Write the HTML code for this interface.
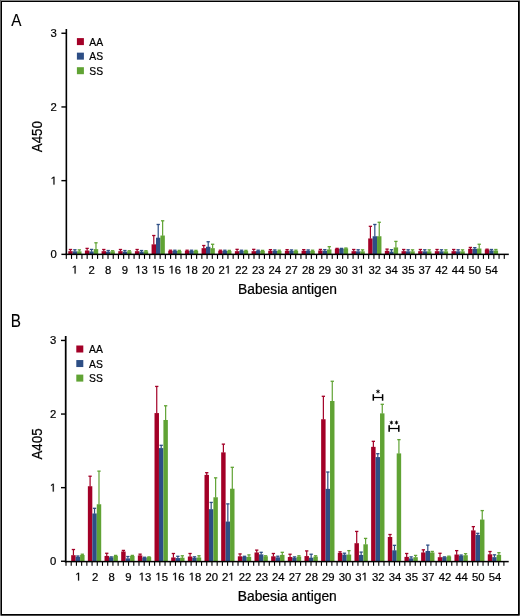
<!DOCTYPE html>
<html><head><meta charset="utf-8"><title>Babesia antigen</title>
<style>
html,body{margin:0;padding:0;background:#fff;}
body{width:520px;height:616px;overflow:hidden;position:relative;}
svg{position:absolute;left:0;top:0;will-change:transform;}
text{font-family:"Liberation Sans", sans-serif;fill:#000;stroke:#000;stroke-width:0.22px;}
</style></head><body>
<svg width="520" height="616" viewBox="0 0 520 616">
<rect x="0" y="0" width="520" height="616" fill="#fff"/>
<rect x="68.27" y="251.18" width="4.42" height="3.22" fill="#a30027"/>
<rect x="69.88" y="249.49" width="1.2" height="1.99" fill="#a30027"/>
<rect x="68.83" y="248.84" width="3.3" height="1.3" fill="#a30027"/>
<rect x="72.69" y="251.33" width="4.42" height="3.07" fill="#2d4e85"/>
<rect x="74.3" y="249.78" width="1.2" height="1.84" fill="#2d4e85"/>
<rect x="73.25" y="249.13" width="3.3" height="1.3" fill="#2d4e85"/>
<rect x="77.11" y="251.33" width="4.42" height="3.07" fill="#60a334"/>
<rect x="78.72" y="249.85" width="1.2" height="1.77" fill="#60a334"/>
<rect x="77.67" y="249.2" width="3.3" height="1.3" fill="#60a334"/>
<rect x="84.93" y="250.52" width="4.42" height="3.88" fill="#a30027"/>
<rect x="86.54" y="248.38" width="1.2" height="2.43" fill="#a30027"/>
<rect x="85.49" y="247.73" width="3.3" height="1.3" fill="#a30027"/>
<rect x="89.35" y="251.47" width="4.42" height="2.93" fill="#2d4e85"/>
<rect x="90.96" y="249.41" width="1.2" height="2.36" fill="#2d4e85"/>
<rect x="89.91" y="248.76" width="3.3" height="1.3" fill="#2d4e85"/>
<rect x="93.77" y="249.12" width="4.42" height="5.28" fill="#60a334"/>
<rect x="95.38" y="242.79" width="1.2" height="6.63" fill="#60a334"/>
<rect x="94.33" y="242.14" width="3.3" height="1.3" fill="#60a334"/>
<rect x="101.59" y="251.18" width="4.42" height="3.22" fill="#a30027"/>
<rect x="103.2" y="249.49" width="1.2" height="1.99" fill="#a30027"/>
<rect x="102.15" y="248.84" width="3.3" height="1.3" fill="#a30027"/>
<rect x="106.01" y="251.69" width="4.42" height="2.71" fill="#2d4e85"/>
<rect x="107.62" y="250.52" width="1.2" height="1.48" fill="#2d4e85"/>
<rect x="106.57" y="249.87" width="3.3" height="1.3" fill="#2d4e85"/>
<rect x="110.43" y="251.33" width="4.42" height="3.07" fill="#60a334"/>
<rect x="112.04" y="250.74" width="1.2" height="0.89" fill="#60a334"/>
<rect x="110.99" y="250.09" width="3.3" height="1.3" fill="#60a334"/>
<rect x="118.26" y="251.18" width="4.42" height="3.22" fill="#a30027"/>
<rect x="119.87" y="249.49" width="1.2" height="1.99" fill="#a30027"/>
<rect x="118.82" y="248.84" width="3.3" height="1.3" fill="#a30027"/>
<rect x="122.68" y="251.69" width="4.42" height="2.71" fill="#2d4e85"/>
<rect x="124.29" y="250.52" width="1.2" height="1.48" fill="#2d4e85"/>
<rect x="123.24" y="249.87" width="3.3" height="1.3" fill="#2d4e85"/>
<rect x="127.1" y="251.33" width="4.42" height="3.07" fill="#60a334"/>
<rect x="128.71" y="250.74" width="1.2" height="0.89" fill="#60a334"/>
<rect x="127.66" y="250.09" width="3.3" height="1.3" fill="#60a334"/>
<rect x="134.92" y="251.18" width="4.42" height="3.22" fill="#a30027"/>
<rect x="136.53" y="249.49" width="1.2" height="1.99" fill="#a30027"/>
<rect x="135.48" y="248.84" width="3.3" height="1.3" fill="#a30027"/>
<rect x="139.34" y="251.69" width="4.42" height="2.71" fill="#2d4e85"/>
<rect x="140.95" y="250.52" width="1.2" height="1.48" fill="#2d4e85"/>
<rect x="139.9" y="249.87" width="3.3" height="1.3" fill="#2d4e85"/>
<rect x="143.76" y="251.33" width="4.42" height="3.07" fill="#60a334"/>
<rect x="145.37" y="250.74" width="1.2" height="0.89" fill="#60a334"/>
<rect x="144.32" y="250.09" width="3.3" height="1.3" fill="#60a334"/>
<rect x="151.58" y="244.34" width="4.42" height="10.06" fill="#a30027"/>
<rect x="153.19" y="235.51" width="1.2" height="9.13" fill="#a30027"/>
<rect x="152.14" y="234.86" width="3.3" height="1.3" fill="#a30027"/>
<rect x="156" y="237.72" width="4.42" height="16.68" fill="#2d4e85"/>
<rect x="157.61" y="224.48" width="1.2" height="13.54" fill="#2d4e85"/>
<rect x="156.56" y="223.83" width="3.3" height="1.3" fill="#2d4e85"/>
<rect x="160.42" y="235.51" width="4.42" height="18.89" fill="#60a334"/>
<rect x="162.03" y="220.8" width="1.2" height="15.01" fill="#60a334"/>
<rect x="160.98" y="220.15" width="3.3" height="1.3" fill="#60a334"/>
<rect x="168.24" y="250.81" width="4.42" height="3.59" fill="#a30027"/>
<rect x="169.85" y="250.22" width="1.2" height="0.89" fill="#a30027"/>
<rect x="168.8" y="249.57" width="3.3" height="1.3" fill="#a30027"/>
<rect x="172.66" y="250.81" width="4.42" height="3.59" fill="#2d4e85"/>
<rect x="174.27" y="250.22" width="1.2" height="0.89" fill="#2d4e85"/>
<rect x="173.22" y="249.57" width="3.3" height="1.3" fill="#2d4e85"/>
<rect x="177.08" y="250.96" width="4.42" height="3.44" fill="#60a334"/>
<rect x="178.69" y="250.37" width="1.2" height="0.89" fill="#60a334"/>
<rect x="177.64" y="249.72" width="3.3" height="1.3" fill="#60a334"/>
<rect x="184.9" y="250.81" width="4.42" height="3.59" fill="#a30027"/>
<rect x="186.51" y="250.22" width="1.2" height="0.89" fill="#a30027"/>
<rect x="185.46" y="249.57" width="3.3" height="1.3" fill="#a30027"/>
<rect x="189.32" y="250.81" width="4.42" height="3.59" fill="#2d4e85"/>
<rect x="190.93" y="250.22" width="1.2" height="0.89" fill="#2d4e85"/>
<rect x="189.88" y="249.57" width="3.3" height="1.3" fill="#2d4e85"/>
<rect x="193.74" y="250.96" width="4.42" height="3.44" fill="#60a334"/>
<rect x="195.35" y="250.37" width="1.2" height="0.89" fill="#60a334"/>
<rect x="194.3" y="249.72" width="3.3" height="1.3" fill="#60a334"/>
<rect x="201.57" y="248.16" width="4.42" height="6.24" fill="#a30027"/>
<rect x="203.18" y="245.52" width="1.2" height="2.95" fill="#a30027"/>
<rect x="202.13" y="244.87" width="3.3" height="1.3" fill="#a30027"/>
<rect x="205.99" y="246.77" width="4.42" height="7.63" fill="#2d4e85"/>
<rect x="207.6" y="241.76" width="1.2" height="5.3" fill="#2d4e85"/>
<rect x="206.55" y="241.11" width="3.3" height="1.3" fill="#2d4e85"/>
<rect x="210.41" y="248.16" width="4.42" height="6.24" fill="#60a334"/>
<rect x="212.02" y="244.26" width="1.2" height="4.2" fill="#60a334"/>
<rect x="210.97" y="243.61" width="3.3" height="1.3" fill="#60a334"/>
<rect x="218.23" y="250.81" width="4.42" height="3.59" fill="#a30027"/>
<rect x="219.84" y="250.22" width="1.2" height="0.89" fill="#a30027"/>
<rect x="218.79" y="249.57" width="3.3" height="1.3" fill="#a30027"/>
<rect x="222.65" y="250.81" width="4.42" height="3.59" fill="#2d4e85"/>
<rect x="224.26" y="250.22" width="1.2" height="0.89" fill="#2d4e85"/>
<rect x="223.21" y="249.57" width="3.3" height="1.3" fill="#2d4e85"/>
<rect x="227.07" y="250.96" width="4.42" height="3.44" fill="#60a334"/>
<rect x="228.68" y="250.37" width="1.2" height="0.89" fill="#60a334"/>
<rect x="227.63" y="249.72" width="3.3" height="1.3" fill="#60a334"/>
<rect x="234.89" y="251.18" width="4.42" height="3.22" fill="#a30027"/>
<rect x="236.5" y="249.34" width="1.2" height="2.14" fill="#a30027"/>
<rect x="235.45" y="248.69" width="3.3" height="1.3" fill="#a30027"/>
<rect x="239.31" y="250.81" width="4.42" height="3.59" fill="#2d4e85"/>
<rect x="240.92" y="250.22" width="1.2" height="0.89" fill="#2d4e85"/>
<rect x="239.87" y="249.57" width="3.3" height="1.3" fill="#2d4e85"/>
<rect x="243.73" y="250.96" width="4.42" height="3.44" fill="#60a334"/>
<rect x="245.34" y="250.37" width="1.2" height="0.89" fill="#60a334"/>
<rect x="244.29" y="249.72" width="3.3" height="1.3" fill="#60a334"/>
<rect x="251.55" y="251.18" width="4.42" height="3.22" fill="#a30027"/>
<rect x="253.16" y="249.34" width="1.2" height="2.14" fill="#a30027"/>
<rect x="252.11" y="248.69" width="3.3" height="1.3" fill="#a30027"/>
<rect x="255.97" y="250.81" width="4.42" height="3.59" fill="#2d4e85"/>
<rect x="257.58" y="250.22" width="1.2" height="0.89" fill="#2d4e85"/>
<rect x="256.53" y="249.57" width="3.3" height="1.3" fill="#2d4e85"/>
<rect x="260.39" y="250.96" width="4.42" height="3.44" fill="#60a334"/>
<rect x="262" y="250.37" width="1.2" height="0.89" fill="#60a334"/>
<rect x="260.95" y="249.72" width="3.3" height="1.3" fill="#60a334"/>
<rect x="268.21" y="250.81" width="4.42" height="3.59" fill="#a30027"/>
<rect x="269.82" y="249.63" width="1.2" height="1.48" fill="#a30027"/>
<rect x="268.77" y="248.98" width="3.3" height="1.3" fill="#a30027"/>
<rect x="272.63" y="250.81" width="4.42" height="3.59" fill="#2d4e85"/>
<rect x="274.24" y="249.93" width="1.2" height="1.18" fill="#2d4e85"/>
<rect x="273.19" y="249.28" width="3.3" height="1.3" fill="#2d4e85"/>
<rect x="277.05" y="250.96" width="4.42" height="3.44" fill="#60a334"/>
<rect x="278.66" y="250.22" width="1.2" height="1.04" fill="#60a334"/>
<rect x="277.61" y="249.57" width="3.3" height="1.3" fill="#60a334"/>
<rect x="284.88" y="250.81" width="4.42" height="3.59" fill="#a30027"/>
<rect x="286.49" y="249.63" width="1.2" height="1.48" fill="#a30027"/>
<rect x="285.44" y="248.98" width="3.3" height="1.3" fill="#a30027"/>
<rect x="289.3" y="250.81" width="4.42" height="3.59" fill="#2d4e85"/>
<rect x="290.91" y="249.93" width="1.2" height="1.18" fill="#2d4e85"/>
<rect x="289.86" y="249.28" width="3.3" height="1.3" fill="#2d4e85"/>
<rect x="293.72" y="250.96" width="4.42" height="3.44" fill="#60a334"/>
<rect x="295.33" y="250.22" width="1.2" height="1.04" fill="#60a334"/>
<rect x="294.28" y="249.57" width="3.3" height="1.3" fill="#60a334"/>
<rect x="301.54" y="250.81" width="4.42" height="3.59" fill="#a30027"/>
<rect x="303.15" y="249.63" width="1.2" height="1.48" fill="#a30027"/>
<rect x="302.1" y="248.98" width="3.3" height="1.3" fill="#a30027"/>
<rect x="305.96" y="250.81" width="4.42" height="3.59" fill="#2d4e85"/>
<rect x="307.57" y="249.93" width="1.2" height="1.18" fill="#2d4e85"/>
<rect x="306.52" y="249.28" width="3.3" height="1.3" fill="#2d4e85"/>
<rect x="310.38" y="250.96" width="4.42" height="3.44" fill="#60a334"/>
<rect x="311.99" y="250.22" width="1.2" height="1.04" fill="#60a334"/>
<rect x="310.94" y="249.57" width="3.3" height="1.3" fill="#60a334"/>
<rect x="318.2" y="250.52" width="4.42" height="3.88" fill="#a30027"/>
<rect x="319.81" y="249.41" width="1.2" height="1.4" fill="#a30027"/>
<rect x="318.76" y="248.76" width="3.3" height="1.3" fill="#a30027"/>
<rect x="322.62" y="250.81" width="4.42" height="3.59" fill="#2d4e85"/>
<rect x="324.23" y="249.63" width="1.2" height="1.48" fill="#2d4e85"/>
<rect x="323.18" y="248.98" width="3.3" height="1.3" fill="#2d4e85"/>
<rect x="327.04" y="249.41" width="4.42" height="4.99" fill="#60a334"/>
<rect x="328.65" y="246.69" width="1.2" height="3.02" fill="#60a334"/>
<rect x="327.6" y="246.04" width="3.3" height="1.3" fill="#60a334"/>
<rect x="334.86" y="248.75" width="4.42" height="5.65" fill="#a30027"/>
<rect x="336.47" y="248.38" width="1.2" height="0.67" fill="#a30027"/>
<rect x="335.42" y="247.73" width="3.3" height="1.3" fill="#a30027"/>
<rect x="339.28" y="248.75" width="4.42" height="5.65" fill="#2d4e85"/>
<rect x="340.89" y="248.38" width="1.2" height="0.67" fill="#2d4e85"/>
<rect x="339.84" y="247.73" width="3.3" height="1.3" fill="#2d4e85"/>
<rect x="343.7" y="248.38" width="4.42" height="6.02" fill="#60a334"/>
<rect x="345.31" y="248.02" width="1.2" height="0.67" fill="#60a334"/>
<rect x="344.26" y="247.37" width="3.3" height="1.3" fill="#60a334"/>
<rect x="351.52" y="251.18" width="4.42" height="3.22" fill="#a30027"/>
<rect x="353.13" y="249.49" width="1.2" height="1.99" fill="#a30027"/>
<rect x="352.08" y="248.84" width="3.3" height="1.3" fill="#a30027"/>
<rect x="355.94" y="251.33" width="4.42" height="3.07" fill="#2d4e85"/>
<rect x="357.55" y="249.78" width="1.2" height="1.84" fill="#2d4e85"/>
<rect x="356.5" y="249.13" width="3.3" height="1.3" fill="#2d4e85"/>
<rect x="360.36" y="251.33" width="4.42" height="3.07" fill="#60a334"/>
<rect x="361.97" y="249.85" width="1.2" height="1.77" fill="#60a334"/>
<rect x="360.92" y="249.2" width="3.3" height="1.3" fill="#60a334"/>
<rect x="368.19" y="238.45" width="4.42" height="15.95" fill="#a30027"/>
<rect x="369.8" y="226.32" width="1.2" height="12.44" fill="#a30027"/>
<rect x="368.75" y="225.67" width="3.3" height="1.3" fill="#a30027"/>
<rect x="372.61" y="236.25" width="4.42" height="18.15" fill="#2d4e85"/>
<rect x="374.22" y="224.48" width="1.2" height="12.07" fill="#2d4e85"/>
<rect x="373.17" y="223.83" width="3.3" height="1.3" fill="#2d4e85"/>
<rect x="377.03" y="236.25" width="4.42" height="18.15" fill="#60a334"/>
<rect x="378.64" y="222.27" width="1.2" height="14.27" fill="#60a334"/>
<rect x="377.59" y="221.62" width="3.3" height="1.3" fill="#60a334"/>
<rect x="384.85" y="250.81" width="4.42" height="3.59" fill="#a30027"/>
<rect x="386.46" y="249.12" width="1.2" height="1.99" fill="#a30027"/>
<rect x="385.41" y="248.47" width="3.3" height="1.3" fill="#a30027"/>
<rect x="389.27" y="251.69" width="4.42" height="2.71" fill="#2d4e85"/>
<rect x="390.88" y="249.71" width="1.2" height="2.29" fill="#2d4e85"/>
<rect x="389.83" y="249.06" width="3.3" height="1.3" fill="#2d4e85"/>
<rect x="393.69" y="247.43" width="4.42" height="6.97" fill="#60a334"/>
<rect x="395.3" y="241.4" width="1.2" height="6.33" fill="#60a334"/>
<rect x="394.25" y="240.75" width="3.3" height="1.3" fill="#60a334"/>
<rect x="401.51" y="251.18" width="4.42" height="3.22" fill="#a30027"/>
<rect x="403.12" y="249.49" width="1.2" height="1.99" fill="#a30027"/>
<rect x="402.07" y="248.84" width="3.3" height="1.3" fill="#a30027"/>
<rect x="405.93" y="251.33" width="4.42" height="3.07" fill="#2d4e85"/>
<rect x="407.54" y="249.78" width="1.2" height="1.84" fill="#2d4e85"/>
<rect x="406.49" y="249.13" width="3.3" height="1.3" fill="#2d4e85"/>
<rect x="410.35" y="251.33" width="4.42" height="3.07" fill="#60a334"/>
<rect x="411.96" y="249.85" width="1.2" height="1.77" fill="#60a334"/>
<rect x="410.91" y="249.2" width="3.3" height="1.3" fill="#60a334"/>
<rect x="418.17" y="251.18" width="4.42" height="3.22" fill="#a30027"/>
<rect x="419.78" y="249.49" width="1.2" height="1.99" fill="#a30027"/>
<rect x="418.73" y="248.84" width="3.3" height="1.3" fill="#a30027"/>
<rect x="422.59" y="251.33" width="4.42" height="3.07" fill="#2d4e85"/>
<rect x="424.2" y="249.78" width="1.2" height="1.84" fill="#2d4e85"/>
<rect x="423.15" y="249.13" width="3.3" height="1.3" fill="#2d4e85"/>
<rect x="427.01" y="251.33" width="4.42" height="3.07" fill="#60a334"/>
<rect x="428.62" y="249.85" width="1.2" height="1.77" fill="#60a334"/>
<rect x="427.57" y="249.2" width="3.3" height="1.3" fill="#60a334"/>
<rect x="434.83" y="251.18" width="4.42" height="3.22" fill="#a30027"/>
<rect x="436.44" y="249.49" width="1.2" height="1.99" fill="#a30027"/>
<rect x="435.39" y="248.84" width="3.3" height="1.3" fill="#a30027"/>
<rect x="439.25" y="251.33" width="4.42" height="3.07" fill="#2d4e85"/>
<rect x="440.86" y="249.78" width="1.2" height="1.84" fill="#2d4e85"/>
<rect x="439.81" y="249.13" width="3.3" height="1.3" fill="#2d4e85"/>
<rect x="443.67" y="251.33" width="4.42" height="3.07" fill="#60a334"/>
<rect x="445.28" y="249.85" width="1.2" height="1.77" fill="#60a334"/>
<rect x="444.23" y="249.2" width="3.3" height="1.3" fill="#60a334"/>
<rect x="451.5" y="251.18" width="4.42" height="3.22" fill="#a30027"/>
<rect x="453.11" y="249.49" width="1.2" height="1.99" fill="#a30027"/>
<rect x="452.06" y="248.84" width="3.3" height="1.3" fill="#a30027"/>
<rect x="455.92" y="251.33" width="4.42" height="3.07" fill="#2d4e85"/>
<rect x="457.53" y="249.78" width="1.2" height="1.84" fill="#2d4e85"/>
<rect x="456.48" y="249.13" width="3.3" height="1.3" fill="#2d4e85"/>
<rect x="460.34" y="251.33" width="4.42" height="3.07" fill="#60a334"/>
<rect x="461.95" y="249.85" width="1.2" height="1.77" fill="#60a334"/>
<rect x="460.9" y="249.2" width="3.3" height="1.3" fill="#60a334"/>
<rect x="468.16" y="248.83" width="4.42" height="5.57" fill="#a30027"/>
<rect x="469.77" y="247.43" width="1.2" height="1.7" fill="#a30027"/>
<rect x="468.72" y="246.78" width="3.3" height="1.3" fill="#a30027"/>
<rect x="472.58" y="248.83" width="4.42" height="5.57" fill="#2d4e85"/>
<rect x="474.19" y="247.65" width="1.2" height="1.48" fill="#2d4e85"/>
<rect x="473.14" y="247" width="3.3" height="1.3" fill="#2d4e85"/>
<rect x="477" y="248.53" width="4.42" height="5.87" fill="#60a334"/>
<rect x="478.61" y="244.26" width="1.2" height="4.57" fill="#60a334"/>
<rect x="477.56" y="243.61" width="3.3" height="1.3" fill="#60a334"/>
<rect x="484.82" y="249.49" width="4.42" height="4.91" fill="#a30027"/>
<rect x="486.43" y="249.19" width="1.2" height="0.59" fill="#a30027"/>
<rect x="485.38" y="248.54" width="3.3" height="1.3" fill="#a30027"/>
<rect x="489.24" y="250.52" width="4.42" height="3.88" fill="#2d4e85"/>
<rect x="490.85" y="249.49" width="1.2" height="1.33" fill="#2d4e85"/>
<rect x="489.8" y="248.84" width="3.3" height="1.3" fill="#2d4e85"/>
<rect x="493.66" y="250.52" width="4.42" height="3.88" fill="#60a334"/>
<rect x="495.27" y="249.49" width="1.2" height="1.33" fill="#60a334"/>
<rect x="494.22" y="248.84" width="3.3" height="1.3" fill="#60a334"/>
<rect x="65.55" y="29" width="1.6" height="226.1" fill="#000"/>
<rect x="61.4" y="253.65" width="4.95" height="1.4" fill="#000"/>
<text x="50.615" y="258.300" font-size="11.3">0</text>
<rect x="61.4" y="179.95" width="4.95" height="1.4" fill="#000"/>
<path transform="translate(50.615 184.600) scale(0.005518 -0.005518)" d="M515 0L515 1237L197 1010L197 1180L530 1409L696 1409L696 0Z" fill="#000" stroke="#000" stroke-width="0.22" vector-effect="non-scaling-stroke"/>
<rect x="61.4" y="106.25" width="4.95" height="1.4" fill="#000"/>
<text x="50.615" y="110.900" font-size="11.3">2</text>
<rect x="61.4" y="32.55" width="4.95" height="1.4" fill="#000"/>
<text x="50.615" y="37.200" font-size="11.3">3</text>
<rect x="65.55" y="253.6" width="443.25" height="1.5" fill="#000"/>
<rect x="65.75" y="254.35" width="1.1" height="4.55" fill="#000"/>
<rect x="70.96" y="254.35" width="1.1" height="4.55" fill="#000"/>
<rect x="76.18" y="254.35" width="1.1" height="4.55" fill="#000"/>
<rect x="81.39" y="254.35" width="1.1" height="4.55" fill="#000"/>
<rect x="86.61" y="254.35" width="1.1" height="4.55" fill="#000"/>
<rect x="91.82" y="254.35" width="1.1" height="4.55" fill="#000"/>
<rect x="97.03" y="254.35" width="1.1" height="4.55" fill="#000"/>
<rect x="102.25" y="254.35" width="1.1" height="4.55" fill="#000"/>
<rect x="107.46" y="254.35" width="1.1" height="4.55" fill="#000"/>
<rect x="112.68" y="254.35" width="1.1" height="4.55" fill="#000"/>
<rect x="117.89" y="254.35" width="1.1" height="4.55" fill="#000"/>
<rect x="123.1" y="254.35" width="1.1" height="4.55" fill="#000"/>
<rect x="128.32" y="254.35" width="1.1" height="4.55" fill="#000"/>
<rect x="133.53" y="254.35" width="1.1" height="4.55" fill="#000"/>
<rect x="138.75" y="254.35" width="1.1" height="4.55" fill="#000"/>
<rect x="143.96" y="254.35" width="1.1" height="4.55" fill="#000"/>
<rect x="149.17" y="254.35" width="1.1" height="4.55" fill="#000"/>
<rect x="154.39" y="254.35" width="1.1" height="4.55" fill="#000"/>
<rect x="159.6" y="254.35" width="1.1" height="4.55" fill="#000"/>
<rect x="164.82" y="254.35" width="1.1" height="4.55" fill="#000"/>
<rect x="170.03" y="254.35" width="1.1" height="4.55" fill="#000"/>
<rect x="175.24" y="254.35" width="1.1" height="4.55" fill="#000"/>
<rect x="180.46" y="254.35" width="1.1" height="4.55" fill="#000"/>
<rect x="185.67" y="254.35" width="1.1" height="4.55" fill="#000"/>
<rect x="190.89" y="254.35" width="1.1" height="4.55" fill="#000"/>
<rect x="196.1" y="254.35" width="1.1" height="4.55" fill="#000"/>
<rect x="201.31" y="254.35" width="1.1" height="4.55" fill="#000"/>
<rect x="206.53" y="254.35" width="1.1" height="4.55" fill="#000"/>
<rect x="211.74" y="254.35" width="1.1" height="4.55" fill="#000"/>
<rect x="216.96" y="254.35" width="1.1" height="4.55" fill="#000"/>
<rect x="222.17" y="254.35" width="1.1" height="4.55" fill="#000"/>
<rect x="227.38" y="254.35" width="1.1" height="4.55" fill="#000"/>
<rect x="232.6" y="254.35" width="1.1" height="4.55" fill="#000"/>
<rect x="237.81" y="254.35" width="1.1" height="4.55" fill="#000"/>
<rect x="243.03" y="254.35" width="1.1" height="4.55" fill="#000"/>
<rect x="248.24" y="254.35" width="1.1" height="4.55" fill="#000"/>
<rect x="253.45" y="254.35" width="1.1" height="4.55" fill="#000"/>
<rect x="258.67" y="254.35" width="1.1" height="4.55" fill="#000"/>
<rect x="263.88" y="254.35" width="1.1" height="4.55" fill="#000"/>
<rect x="269.1" y="254.35" width="1.1" height="4.55" fill="#000"/>
<rect x="274.31" y="254.35" width="1.1" height="4.55" fill="#000"/>
<rect x="279.52" y="254.35" width="1.1" height="4.55" fill="#000"/>
<rect x="284.74" y="254.35" width="1.1" height="4.55" fill="#000"/>
<rect x="289.95" y="254.35" width="1.1" height="4.55" fill="#000"/>
<rect x="295.17" y="254.35" width="1.1" height="4.55" fill="#000"/>
<rect x="300.38" y="254.35" width="1.1" height="4.55" fill="#000"/>
<rect x="305.59" y="254.35" width="1.1" height="4.55" fill="#000"/>
<rect x="310.81" y="254.35" width="1.1" height="4.55" fill="#000"/>
<rect x="316.02" y="254.35" width="1.1" height="4.55" fill="#000"/>
<rect x="321.24" y="254.35" width="1.1" height="4.55" fill="#000"/>
<rect x="326.45" y="254.35" width="1.1" height="4.55" fill="#000"/>
<rect x="331.66" y="254.35" width="1.1" height="4.55" fill="#000"/>
<rect x="336.88" y="254.35" width="1.1" height="4.55" fill="#000"/>
<rect x="342.09" y="254.35" width="1.1" height="4.55" fill="#000"/>
<rect x="347.31" y="254.35" width="1.1" height="4.55" fill="#000"/>
<rect x="352.52" y="254.35" width="1.1" height="4.55" fill="#000"/>
<rect x="357.73" y="254.35" width="1.1" height="4.55" fill="#000"/>
<rect x="362.95" y="254.35" width="1.1" height="4.55" fill="#000"/>
<rect x="368.16" y="254.35" width="1.1" height="4.55" fill="#000"/>
<rect x="373.38" y="254.35" width="1.1" height="4.55" fill="#000"/>
<rect x="378.59" y="254.35" width="1.1" height="4.55" fill="#000"/>
<rect x="383.8" y="254.35" width="1.1" height="4.55" fill="#000"/>
<rect x="389.02" y="254.35" width="1.1" height="4.55" fill="#000"/>
<rect x="394.23" y="254.35" width="1.1" height="4.55" fill="#000"/>
<rect x="399.45" y="254.35" width="1.1" height="4.55" fill="#000"/>
<rect x="404.66" y="254.35" width="1.1" height="4.55" fill="#000"/>
<rect x="409.87" y="254.35" width="1.1" height="4.55" fill="#000"/>
<rect x="415.09" y="254.35" width="1.1" height="4.55" fill="#000"/>
<rect x="420.3" y="254.35" width="1.1" height="4.55" fill="#000"/>
<rect x="425.52" y="254.35" width="1.1" height="4.55" fill="#000"/>
<rect x="430.73" y="254.35" width="1.1" height="4.55" fill="#000"/>
<rect x="435.94" y="254.35" width="1.1" height="4.55" fill="#000"/>
<rect x="441.16" y="254.35" width="1.1" height="4.55" fill="#000"/>
<rect x="446.37" y="254.35" width="1.1" height="4.55" fill="#000"/>
<rect x="451.59" y="254.35" width="1.1" height="4.55" fill="#000"/>
<rect x="456.8" y="254.35" width="1.1" height="4.55" fill="#000"/>
<rect x="462.01" y="254.35" width="1.1" height="4.55" fill="#000"/>
<rect x="467.23" y="254.35" width="1.1" height="4.55" fill="#000"/>
<rect x="472.44" y="254.35" width="1.1" height="4.55" fill="#000"/>
<rect x="477.66" y="254.35" width="1.1" height="4.55" fill="#000"/>
<rect x="482.87" y="254.35" width="1.1" height="4.55" fill="#000"/>
<rect x="488.08" y="254.35" width="1.1" height="4.55" fill="#000"/>
<rect x="493.3" y="254.35" width="1.1" height="4.55" fill="#000"/>
<rect x="498.51" y="254.35" width="1.1" height="4.55" fill="#000"/>
<rect x="503.73" y="254.35" width="1.1" height="4.55" fill="#000"/>
<path transform="translate(71.758 273.600) scale(0.005518 -0.005518)" d="M515 0L515 1237L197 1010L197 1180L530 1409L696 1409L696 0Z" fill="#000" stroke="#000" stroke-width="0.22" vector-effect="non-scaling-stroke"/>
<text x="88.420" y="273.600" font-size="11.3">2</text>
<text x="105.082" y="273.600" font-size="11.3">8</text>
<text x="121.744" y="273.600" font-size="11.3">9</text>
<path transform="translate(135.263 273.600) scale(0.005518 -0.005518)" d="M515 0L515 1237L197 1010L197 1180L530 1409L696 1409L696 0Z" fill="#000" stroke="#000" stroke-width="0.22" vector-effect="non-scaling-stroke"/>
<text x="141.548" y="273.600" font-size="11.3">3</text>
<path transform="translate(151.925 273.600) scale(0.005518 -0.005518)" d="M515 0L515 1237L197 1010L197 1180L530 1409L696 1409L696 0Z" fill="#000" stroke="#000" stroke-width="0.22" vector-effect="non-scaling-stroke"/>
<text x="158.210" y="273.600" font-size="11.3">5</text>
<path transform="translate(168.587 273.600) scale(0.005518 -0.005518)" d="M515 0L515 1237L197 1010L197 1180L530 1409L696 1409L696 0Z" fill="#000" stroke="#000" stroke-width="0.22" vector-effect="non-scaling-stroke"/>
<text x="174.872" y="273.600" font-size="11.3">6</text>
<path transform="translate(185.249 273.600) scale(0.005518 -0.005518)" d="M515 0L515 1237L197 1010L197 1180L530 1409L696 1409L696 0Z" fill="#000" stroke="#000" stroke-width="0.22" vector-effect="non-scaling-stroke"/>
<text x="191.534" y="273.600" font-size="11.3">8</text>
<text x="201.911" y="273.600" font-size="11.3">2</text>
<text x="208.196" y="273.600" font-size="11.3">0</text>
<text x="218.573" y="273.600" font-size="11.3">2</text>
<path transform="translate(224.858 273.600) scale(0.005518 -0.005518)" d="M515 0L515 1237L197 1010L197 1180L530 1409L696 1409L696 0Z" fill="#000" stroke="#000" stroke-width="0.22" vector-effect="non-scaling-stroke"/>
<text x="235.235" y="273.600" font-size="11.3">2</text>
<text x="241.520" y="273.600" font-size="11.3">2</text>
<text x="251.897" y="273.600" font-size="11.3">2</text>
<text x="258.182" y="273.600" font-size="11.3">3</text>
<text x="268.559" y="273.600" font-size="11.3">2</text>
<text x="274.844" y="273.600" font-size="11.3">4</text>
<text x="285.221" y="273.600" font-size="11.3">2</text>
<text x="291.506" y="273.600" font-size="11.3">7</text>
<text x="301.883" y="273.600" font-size="11.3">2</text>
<text x="308.168" y="273.600" font-size="11.3">8</text>
<text x="318.545" y="273.600" font-size="11.3">2</text>
<text x="324.830" y="273.600" font-size="11.3">9</text>
<text x="335.207" y="273.600" font-size="11.3">3</text>
<text x="341.492" y="273.600" font-size="11.3">0</text>
<text x="351.869" y="273.600" font-size="11.3">3</text>
<path transform="translate(358.154 273.600) scale(0.005518 -0.005518)" d="M515 0L515 1237L197 1010L197 1180L530 1409L696 1409L696 0Z" fill="#000" stroke="#000" stroke-width="0.22" vector-effect="non-scaling-stroke"/>
<text x="368.531" y="273.600" font-size="11.3">3</text>
<text x="374.816" y="273.600" font-size="11.3">2</text>
<text x="385.193" y="273.600" font-size="11.3">3</text>
<text x="391.478" y="273.600" font-size="11.3">4</text>
<text x="401.855" y="273.600" font-size="11.3">3</text>
<text x="408.140" y="273.600" font-size="11.3">5</text>
<text x="418.517" y="273.600" font-size="11.3">3</text>
<text x="424.802" y="273.600" font-size="11.3">7</text>
<text x="435.179" y="273.600" font-size="11.3">4</text>
<text x="441.464" y="273.600" font-size="11.3">2</text>
<text x="451.841" y="273.600" font-size="11.3">4</text>
<text x="458.126" y="273.600" font-size="11.3">4</text>
<text x="468.503" y="273.600" font-size="11.3">5</text>
<text x="474.788" y="273.600" font-size="11.3">0</text>
<text x="485.165" y="273.600" font-size="11.3">5</text>
<text x="491.450" y="273.600" font-size="11.3">4</text>
<text x="287.5" y="293.75" text-anchor="middle" font-size="13.8">Babesia antigen</text>
<text transform="translate(42 136.7) rotate(-90) scale(0.965 1)" text-anchor="middle" font-size="13.8">A450</text>
<text transform="translate(11.2 25.9) scale(0.9 1)" font-size="17" style="stroke-width:0.1px">A</text>
<rect x="76.9" y="38.1" width="7" height="7" fill="#a30027"/>
<text transform="translate(89.3 45.7) scale(0.9 1)" font-size="11.5">AA</text>
<rect x="76.9" y="52.65" width="7" height="7" fill="#2d4e85"/>
<text transform="translate(89.3 60.25) scale(0.9 1)" font-size="11.5">AS</text>
<rect x="76.9" y="67.2" width="7" height="7" fill="#60a334"/>
<text transform="translate(89.3 74.8) scale(0.9 1)" font-size="11.5">SS</text>
<rect x="71.2" y="555.19" width="4.45" height="6.61" fill="#a30027"/>
<rect x="72.83" y="549.52" width="1.2" height="5.97" fill="#a30027"/>
<rect x="71.77" y="548.87" width="3.3" height="1.3" fill="#a30027"/>
<rect x="75.65" y="556.81" width="4.45" height="4.99" fill="#2d4e85"/>
<rect x="77.28" y="556" width="1.2" height="1.11" fill="#2d4e85"/>
<rect x="76.22" y="555.35" width="3.3" height="1.3" fill="#2d4e85"/>
<rect x="80.1" y="554.97" width="4.45" height="6.83" fill="#60a334"/>
<rect x="81.73" y="554.23" width="1.2" height="1.04" fill="#60a334"/>
<rect x="80.67" y="553.58" width="3.3" height="1.3" fill="#60a334"/>
<rect x="87.86" y="486.23" width="4.45" height="75.57" fill="#a30027"/>
<rect x="89.49" y="476.22" width="1.2" height="10.31" fill="#a30027"/>
<rect x="88.44" y="475.57" width="3.3" height="1.3" fill="#a30027"/>
<rect x="92.31" y="513.46" width="4.45" height="48.34" fill="#2d4e85"/>
<rect x="93.94" y="508.31" width="1.2" height="5.45" fill="#2d4e85"/>
<rect x="92.89" y="507.66" width="3.3" height="1.3" fill="#2d4e85"/>
<rect x="96.76" y="504.26" width="4.45" height="57.54" fill="#60a334"/>
<rect x="98.39" y="471.14" width="1.2" height="33.42" fill="#60a334"/>
<rect x="97.34" y="470.49" width="3.3" height="1.3" fill="#60a334"/>
<rect x="104.53" y="555.93" width="4.45" height="5.87" fill="#a30027"/>
<rect x="106.15" y="553.28" width="1.2" height="2.95" fill="#a30027"/>
<rect x="105.1" y="552.63" width="3.3" height="1.3" fill="#a30027"/>
<rect x="108.98" y="557.33" width="4.45" height="4.47" fill="#2d4e85"/>
<rect x="110.6" y="556.88" width="1.2" height="0.74" fill="#2d4e85"/>
<rect x="109.55" y="556.23" width="3.3" height="1.3" fill="#2d4e85"/>
<rect x="113.43" y="555.93" width="4.45" height="5.87" fill="#60a334"/>
<rect x="115.05" y="555.41" width="1.2" height="0.82" fill="#60a334"/>
<rect x="114" y="554.76" width="3.3" height="1.3" fill="#60a334"/>
<rect x="121.19" y="551.51" width="4.45" height="10.29" fill="#a30027"/>
<rect x="122.81" y="550.41" width="1.2" height="1.4" fill="#a30027"/>
<rect x="121.76" y="549.76" width="3.3" height="1.3" fill="#a30027"/>
<rect x="125.64" y="558.36" width="4.45" height="3.44" fill="#2d4e85"/>
<rect x="127.26" y="556.52" width="1.2" height="2.14" fill="#2d4e85"/>
<rect x="126.21" y="555.87" width="3.3" height="1.3" fill="#2d4e85"/>
<rect x="130.09" y="555.93" width="4.45" height="5.87" fill="#60a334"/>
<rect x="131.71" y="555.41" width="1.2" height="0.82" fill="#60a334"/>
<rect x="130.66" y="554.76" width="3.3" height="1.3" fill="#60a334"/>
<rect x="137.85" y="555.41" width="4.45" height="6.39" fill="#a30027"/>
<rect x="139.48" y="554.16" width="1.2" height="1.55" fill="#a30027"/>
<rect x="138.43" y="553.51" width="3.3" height="1.3" fill="#a30027"/>
<rect x="142.3" y="557.62" width="4.45" height="4.18" fill="#2d4e85"/>
<rect x="143.93" y="557.25" width="1.2" height="0.67" fill="#2d4e85"/>
<rect x="142.88" y="556.6" width="3.3" height="1.3" fill="#2d4e85"/>
<rect x="146.75" y="557.1" width="4.45" height="4.7" fill="#60a334"/>
<rect x="148.38" y="556.88" width="1.2" height="0.52" fill="#60a334"/>
<rect x="147.33" y="556.23" width="3.3" height="1.3" fill="#60a334"/>
<rect x="154.51" y="413.07" width="4.45" height="148.73" fill="#a30027"/>
<rect x="156.14" y="386.43" width="1.2" height="26.94" fill="#a30027"/>
<rect x="155.09" y="385.78" width="3.3" height="1.3" fill="#a30027"/>
<rect x="158.96" y="448.1" width="4.45" height="113.7" fill="#2d4e85"/>
<rect x="160.59" y="445.31" width="1.2" height="3.1" fill="#2d4e85"/>
<rect x="159.54" y="444.66" width="3.3" height="1.3" fill="#2d4e85"/>
<rect x="163.41" y="419.99" width="4.45" height="141.81" fill="#60a334"/>
<rect x="165.04" y="405.78" width="1.2" height="14.5" fill="#60a334"/>
<rect x="163.99" y="405.13" width="3.3" height="1.3" fill="#60a334"/>
<rect x="171.18" y="557.47" width="4.45" height="4.33" fill="#a30027"/>
<rect x="172.8" y="553.5" width="1.2" height="4.27" fill="#a30027"/>
<rect x="171.75" y="552.85" width="3.3" height="1.3" fill="#a30027"/>
<rect x="175.63" y="558.06" width="4.45" height="3.74" fill="#2d4e85"/>
<rect x="177.25" y="556.3" width="1.2" height="2.07" fill="#2d4e85"/>
<rect x="176.2" y="555.65" width="3.3" height="1.3" fill="#2d4e85"/>
<rect x="180.08" y="557.69" width="4.45" height="4.11" fill="#60a334"/>
<rect x="181.7" y="555.78" width="1.2" height="2.21" fill="#60a334"/>
<rect x="180.65" y="555.13" width="3.3" height="1.3" fill="#60a334"/>
<rect x="187.84" y="556.52" width="4.45" height="5.28" fill="#a30027"/>
<rect x="189.47" y="553.5" width="1.2" height="3.32" fill="#a30027"/>
<rect x="188.42" y="552.85" width="3.3" height="1.3" fill="#a30027"/>
<rect x="192.29" y="557.77" width="4.45" height="4.03" fill="#2d4e85"/>
<rect x="193.92" y="556.81" width="1.2" height="1.26" fill="#2d4e85"/>
<rect x="192.87" y="556.16" width="3.3" height="1.3" fill="#2d4e85"/>
<rect x="196.74" y="557.47" width="4.45" height="4.33" fill="#60a334"/>
<rect x="198.37" y="555.78" width="1.2" height="1.99" fill="#60a334"/>
<rect x="197.32" y="555.13" width="3.3" height="1.3" fill="#60a334"/>
<rect x="204.5" y="474.89" width="4.45" height="86.91" fill="#a30027"/>
<rect x="206.13" y="472.69" width="1.2" height="2.51" fill="#a30027"/>
<rect x="205.08" y="472.04" width="3.3" height="1.3" fill="#a30027"/>
<rect x="208.95" y="509.19" width="4.45" height="52.61" fill="#2d4e85"/>
<rect x="210.58" y="502.42" width="1.2" height="7.07" fill="#2d4e85"/>
<rect x="209.53" y="501.77" width="3.3" height="1.3" fill="#2d4e85"/>
<rect x="213.4" y="497.27" width="4.45" height="64.53" fill="#60a334"/>
<rect x="215.03" y="477.84" width="1.2" height="19.73" fill="#60a334"/>
<rect x="213.98" y="477.19" width="3.3" height="1.3" fill="#60a334"/>
<rect x="221.17" y="452.37" width="4.45" height="109.43" fill="#a30027"/>
<rect x="222.79" y="444.13" width="1.2" height="8.54" fill="#a30027"/>
<rect x="221.74" y="443.48" width="3.3" height="1.3" fill="#a30027"/>
<rect x="225.62" y="521.56" width="4.45" height="40.24" fill="#2d4e85"/>
<rect x="227.24" y="503.89" width="1.2" height="17.96" fill="#2d4e85"/>
<rect x="226.19" y="503.24" width="3.3" height="1.3" fill="#2d4e85"/>
<rect x="230.07" y="488.73" width="4.45" height="73.07" fill="#60a334"/>
<rect x="231.69" y="467.31" width="1.2" height="21.72" fill="#60a334"/>
<rect x="230.64" y="466.66" width="3.3" height="1.3" fill="#60a334"/>
<rect x="237.83" y="556.3" width="4.45" height="5.5" fill="#a30027"/>
<rect x="239.45" y="553.94" width="1.2" height="2.66" fill="#a30027"/>
<rect x="238.4" y="553.29" width="3.3" height="1.3" fill="#a30027"/>
<rect x="242.28" y="556.81" width="4.45" height="4.99" fill="#2d4e85"/>
<rect x="243.9" y="556.3" width="1.2" height="0.82" fill="#2d4e85"/>
<rect x="242.85" y="555.65" width="3.3" height="1.3" fill="#2d4e85"/>
<rect x="246.73" y="556.81" width="4.45" height="4.99" fill="#60a334"/>
<rect x="248.35" y="554.9" width="1.2" height="2.21" fill="#60a334"/>
<rect x="247.3" y="554.25" width="3.3" height="1.3" fill="#60a334"/>
<rect x="254.49" y="552.47" width="4.45" height="9.33" fill="#a30027"/>
<rect x="256.12" y="550.11" width="1.2" height="2.66" fill="#a30027"/>
<rect x="255.07" y="549.46" width="3.3" height="1.3" fill="#a30027"/>
<rect x="258.94" y="554.38" width="4.45" height="7.42" fill="#2d4e85"/>
<rect x="260.57" y="552.32" width="1.2" height="2.36" fill="#2d4e85"/>
<rect x="259.52" y="551.67" width="3.3" height="1.3" fill="#2d4e85"/>
<rect x="263.39" y="556.3" width="4.45" height="5.5" fill="#60a334"/>
<rect x="265.02" y="555.78" width="1.2" height="0.82" fill="#60a334"/>
<rect x="263.97" y="555.13" width="3.3" height="1.3" fill="#60a334"/>
<rect x="271.16" y="556.3" width="4.45" height="5.5" fill="#a30027"/>
<rect x="272.78" y="553.5" width="1.2" height="3.1" fill="#a30027"/>
<rect x="271.73" y="552.85" width="3.3" height="1.3" fill="#a30027"/>
<rect x="275.61" y="557.33" width="4.45" height="4.47" fill="#2d4e85"/>
<rect x="277.23" y="556.22" width="1.2" height="1.4" fill="#2d4e85"/>
<rect x="276.18" y="555.57" width="3.3" height="1.3" fill="#2d4e85"/>
<rect x="280.06" y="554.9" width="4.45" height="6.9" fill="#60a334"/>
<rect x="281.68" y="552.32" width="1.2" height="2.88" fill="#60a334"/>
<rect x="280.63" y="551.67" width="3.3" height="1.3" fill="#60a334"/>
<rect x="287.82" y="557.03" width="4.45" height="4.77" fill="#a30027"/>
<rect x="289.44" y="554.23" width="1.2" height="3.1" fill="#a30027"/>
<rect x="288.39" y="553.58" width="3.3" height="1.3" fill="#a30027"/>
<rect x="292.27" y="557.69" width="4.45" height="4.11" fill="#2d4e85"/>
<rect x="293.89" y="556.88" width="1.2" height="1.11" fill="#2d4e85"/>
<rect x="292.84" y="556.23" width="3.3" height="1.3" fill="#2d4e85"/>
<rect x="296.72" y="556.59" width="4.45" height="5.21" fill="#60a334"/>
<rect x="298.34" y="555.78" width="1.2" height="1.11" fill="#60a334"/>
<rect x="297.29" y="555.13" width="3.3" height="1.3" fill="#60a334"/>
<rect x="304.48" y="556.07" width="4.45" height="5.73" fill="#a30027"/>
<rect x="306.11" y="550.92" width="1.2" height="5.45" fill="#a30027"/>
<rect x="305.06" y="550.27" width="3.3" height="1.3" fill="#a30027"/>
<rect x="308.93" y="557.69" width="4.45" height="4.11" fill="#2d4e85"/>
<rect x="310.56" y="554.23" width="1.2" height="3.76" fill="#2d4e85"/>
<rect x="309.51" y="553.58" width="3.3" height="1.3" fill="#2d4e85"/>
<rect x="313.38" y="556.59" width="4.45" height="5.21" fill="#60a334"/>
<rect x="315.01" y="555.78" width="1.2" height="1.11" fill="#60a334"/>
<rect x="313.96" y="555.13" width="3.3" height="1.3" fill="#60a334"/>
<rect x="321.14" y="419.25" width="4.45" height="142.55" fill="#a30027"/>
<rect x="322.77" y="396.29" width="1.2" height="23.26" fill="#a30027"/>
<rect x="321.72" y="395.64" width="3.3" height="1.3" fill="#a30027"/>
<rect x="325.59" y="488.88" width="4.45" height="72.92" fill="#2d4e85"/>
<rect x="327.22" y="472.02" width="1.2" height="17.15" fill="#2d4e85"/>
<rect x="326.17" y="471.37" width="3.3" height="1.3" fill="#2d4e85"/>
<rect x="330.04" y="401" width="4.45" height="160.8" fill="#60a334"/>
<rect x="331.67" y="381.27" width="1.2" height="20.02" fill="#60a334"/>
<rect x="330.62" y="380.62" width="3.3" height="1.3" fill="#60a334"/>
<rect x="337.81" y="552.91" width="4.45" height="8.89" fill="#a30027"/>
<rect x="339.43" y="551.81" width="1.2" height="1.4" fill="#a30027"/>
<rect x="338.38" y="551.16" width="3.3" height="1.3" fill="#a30027"/>
<rect x="342.26" y="554.6" width="4.45" height="7.2" fill="#2d4e85"/>
<rect x="343.88" y="553.2" width="1.2" height="1.7" fill="#2d4e85"/>
<rect x="342.83" y="552.55" width="3.3" height="1.3" fill="#2d4e85"/>
<rect x="346.71" y="554.6" width="4.45" height="7.2" fill="#60a334"/>
<rect x="348.33" y="550.63" width="1.2" height="4.27" fill="#60a334"/>
<rect x="347.28" y="549.98" width="3.3" height="1.3" fill="#60a334"/>
<rect x="354.47" y="543.19" width="4.45" height="18.61" fill="#a30027"/>
<rect x="356.1" y="531.42" width="1.2" height="12.08" fill="#a30027"/>
<rect x="355.05" y="530.77" width="3.3" height="1.3" fill="#a30027"/>
<rect x="358.92" y="554.97" width="4.45" height="6.83" fill="#2d4e85"/>
<rect x="360.55" y="552.1" width="1.2" height="3.17" fill="#2d4e85"/>
<rect x="359.5" y="551.45" width="3.3" height="1.3" fill="#2d4e85"/>
<rect x="363.37" y="544.3" width="4.45" height="17.5" fill="#60a334"/>
<rect x="365" y="538.41" width="1.2" height="6.19" fill="#60a334"/>
<rect x="363.95" y="537.76" width="3.3" height="1.3" fill="#60a334"/>
<rect x="371.13" y="446.85" width="4.45" height="114.95" fill="#a30027"/>
<rect x="372.76" y="441.33" width="1.2" height="5.82" fill="#a30027"/>
<rect x="371.71" y="440.68" width="3.3" height="1.3" fill="#a30027"/>
<rect x="375.58" y="457.08" width="4.45" height="104.72" fill="#2d4e85"/>
<rect x="377.21" y="453.7" width="1.2" height="3.69" fill="#2d4e85"/>
<rect x="376.16" y="453.05" width="3.3" height="1.3" fill="#2d4e85"/>
<rect x="380.03" y="413.36" width="4.45" height="148.44" fill="#60a334"/>
<rect x="381.66" y="404.31" width="1.2" height="9.35" fill="#60a334"/>
<rect x="380.61" y="403.66" width="3.3" height="1.3" fill="#60a334"/>
<rect x="387.8" y="537.01" width="4.45" height="24.79" fill="#a30027"/>
<rect x="389.42" y="534.51" width="1.2" height="2.8" fill="#a30027"/>
<rect x="388.37" y="533.86" width="3.3" height="1.3" fill="#a30027"/>
<rect x="392.25" y="550.33" width="4.45" height="11.47" fill="#2d4e85"/>
<rect x="393.87" y="545.33" width="1.2" height="5.3" fill="#2d4e85"/>
<rect x="392.82" y="544.68" width="3.3" height="1.3" fill="#2d4e85"/>
<rect x="396.7" y="453.4" width="4.45" height="108.4" fill="#60a334"/>
<rect x="398.32" y="439.64" width="1.2" height="14.06" fill="#60a334"/>
<rect x="397.27" y="438.99" width="3.3" height="1.3" fill="#60a334"/>
<rect x="404.46" y="556.88" width="4.45" height="4.92" fill="#a30027"/>
<rect x="406.08" y="553.5" width="1.2" height="3.69" fill="#a30027"/>
<rect x="405.04" y="552.85" width="3.3" height="1.3" fill="#a30027"/>
<rect x="408.91" y="558.36" width="4.45" height="3.44" fill="#2d4e85"/>
<rect x="410.53" y="556.88" width="1.2" height="1.77" fill="#2d4e85"/>
<rect x="409.49" y="556.23" width="3.3" height="1.3" fill="#2d4e85"/>
<rect x="413.36" y="557.18" width="4.45" height="4.62" fill="#60a334"/>
<rect x="414.98" y="555.41" width="1.2" height="2.07" fill="#60a334"/>
<rect x="413.94" y="554.76" width="3.3" height="1.3" fill="#60a334"/>
<rect x="421.12" y="552.47" width="4.45" height="9.33" fill="#a30027"/>
<rect x="422.75" y="549.82" width="1.2" height="2.95" fill="#a30027"/>
<rect x="421.7" y="549.17" width="3.3" height="1.3" fill="#a30027"/>
<rect x="425.57" y="551" width="4.45" height="10.8" fill="#2d4e85"/>
<rect x="427.2" y="545.11" width="1.2" height="6.19" fill="#2d4e85"/>
<rect x="426.15" y="544.46" width="3.3" height="1.3" fill="#2d4e85"/>
<rect x="430.02" y="552.47" width="4.45" height="9.33" fill="#60a334"/>
<rect x="431.65" y="551.44" width="1.2" height="1.33" fill="#60a334"/>
<rect x="430.6" y="550.79" width="3.3" height="1.3" fill="#60a334"/>
<rect x="437.79" y="557.18" width="4.45" height="4.62" fill="#a30027"/>
<rect x="439.41" y="553.28" width="1.2" height="4.2" fill="#a30027"/>
<rect x="438.36" y="552.63" width="3.3" height="1.3" fill="#a30027"/>
<rect x="442.24" y="557.18" width="4.45" height="4.62" fill="#2d4e85"/>
<rect x="443.86" y="556.88" width="1.2" height="0.59" fill="#2d4e85"/>
<rect x="442.81" y="556.23" width="3.3" height="1.3" fill="#2d4e85"/>
<rect x="446.69" y="556.44" width="4.45" height="5.36" fill="#60a334"/>
<rect x="448.31" y="556.15" width="1.2" height="0.59" fill="#60a334"/>
<rect x="447.26" y="555.5" width="3.3" height="1.3" fill="#60a334"/>
<rect x="454.45" y="554.53" width="4.45" height="7.27" fill="#a30027"/>
<rect x="456.07" y="550.63" width="1.2" height="4.2" fill="#a30027"/>
<rect x="455.02" y="549.98" width="3.3" height="1.3" fill="#a30027"/>
<rect x="458.9" y="555.63" width="4.45" height="6.17" fill="#2d4e85"/>
<rect x="460.52" y="555.04" width="1.2" height="0.89" fill="#2d4e85"/>
<rect x="459.47" y="554.39" width="3.3" height="1.3" fill="#2d4e85"/>
<rect x="463.35" y="555.19" width="4.45" height="6.61" fill="#60a334"/>
<rect x="464.97" y="553.72" width="1.2" height="1.77" fill="#60a334"/>
<rect x="463.92" y="553.07" width="3.3" height="1.3" fill="#60a334"/>
<rect x="471.11" y="530.39" width="4.45" height="31.41" fill="#a30027"/>
<rect x="472.74" y="526.63" width="1.2" height="4.05" fill="#a30027"/>
<rect x="471.69" y="525.98" width="3.3" height="1.3" fill="#a30027"/>
<rect x="475.56" y="534.88" width="4.45" height="26.92" fill="#2d4e85"/>
<rect x="477.19" y="533.33" width="1.2" height="1.85" fill="#2d4e85"/>
<rect x="476.14" y="532.68" width="3.3" height="1.3" fill="#2d4e85"/>
<rect x="480.01" y="519.57" width="4.45" height="42.23" fill="#60a334"/>
<rect x="481.64" y="510.59" width="1.2" height="9.28" fill="#60a334"/>
<rect x="480.59" y="509.94" width="3.3" height="1.3" fill="#60a334"/>
<rect x="487.77" y="554.31" width="4.45" height="7.49" fill="#a30027"/>
<rect x="489.4" y="551.51" width="1.2" height="3.1" fill="#a30027"/>
<rect x="488.35" y="550.86" width="3.3" height="1.3" fill="#a30027"/>
<rect x="492.22" y="557.18" width="4.45" height="4.62" fill="#2d4e85"/>
<rect x="493.85" y="554.82" width="1.2" height="2.66" fill="#2d4e85"/>
<rect x="492.8" y="554.17" width="3.3" height="1.3" fill="#2d4e85"/>
<rect x="496.67" y="554.82" width="4.45" height="6.98" fill="#60a334"/>
<rect x="498.3" y="552.69" width="1.2" height="2.43" fill="#60a334"/>
<rect x="497.25" y="552.04" width="3.3" height="1.3" fill="#60a334"/>
<rect x="64.83" y="336" width="1.75" height="226.35" fill="#000"/>
<rect x="61" y="560.55" width="4.7" height="1.4" fill="#000"/>
<text x="49.915" y="565.200" font-size="11.3">0</text>
<rect x="61" y="486.95" width="4.7" height="1.4" fill="#000"/>
<path transform="translate(49.915 491.600) scale(0.005518 -0.005518)" d="M515 0L515 1237L197 1010L197 1180L530 1409L696 1409L696 0Z" fill="#000" stroke="#000" stroke-width="0.22" vector-effect="non-scaling-stroke"/>
<rect x="61" y="413.35" width="4.7" height="1.4" fill="#000"/>
<text x="49.915" y="418.000" font-size="11.3">2</text>
<rect x="61" y="339.75" width="4.7" height="1.4" fill="#000"/>
<text x="49.915" y="344.400" font-size="11.3">3</text>
<rect x="64.83" y="560.85" width="443.88" height="1.5" fill="#000"/>
<rect x="65.45" y="561.6" width="1.1" height="4.2" fill="#000"/>
<rect x="70.66" y="561.6" width="1.1" height="4.2" fill="#000"/>
<rect x="75.88" y="561.6" width="1.1" height="4.2" fill="#000"/>
<rect x="81.09" y="561.6" width="1.1" height="4.2" fill="#000"/>
<rect x="86.3" y="561.6" width="1.1" height="4.2" fill="#000"/>
<rect x="91.52" y="561.6" width="1.1" height="4.2" fill="#000"/>
<rect x="96.73" y="561.6" width="1.1" height="4.2" fill="#000"/>
<rect x="101.94" y="561.6" width="1.1" height="4.2" fill="#000"/>
<rect x="107.15" y="561.6" width="1.1" height="4.2" fill="#000"/>
<rect x="112.37" y="561.6" width="1.1" height="4.2" fill="#000"/>
<rect x="117.58" y="561.6" width="1.1" height="4.2" fill="#000"/>
<rect x="122.79" y="561.6" width="1.1" height="4.2" fill="#000"/>
<rect x="128.01" y="561.6" width="1.1" height="4.2" fill="#000"/>
<rect x="133.22" y="561.6" width="1.1" height="4.2" fill="#000"/>
<rect x="138.43" y="561.6" width="1.1" height="4.2" fill="#000"/>
<rect x="143.64" y="561.6" width="1.1" height="4.2" fill="#000"/>
<rect x="148.86" y="561.6" width="1.1" height="4.2" fill="#000"/>
<rect x="154.07" y="561.6" width="1.1" height="4.2" fill="#000"/>
<rect x="159.28" y="561.6" width="1.1" height="4.2" fill="#000"/>
<rect x="164.5" y="561.6" width="1.1" height="4.2" fill="#000"/>
<rect x="169.71" y="561.6" width="1.1" height="4.2" fill="#000"/>
<rect x="174.92" y="561.6" width="1.1" height="4.2" fill="#000"/>
<rect x="180.14" y="561.6" width="1.1" height="4.2" fill="#000"/>
<rect x="185.35" y="561.6" width="1.1" height="4.2" fill="#000"/>
<rect x="190.56" y="561.6" width="1.1" height="4.2" fill="#000"/>
<rect x="195.77" y="561.6" width="1.1" height="4.2" fill="#000"/>
<rect x="200.99" y="561.6" width="1.1" height="4.2" fill="#000"/>
<rect x="206.2" y="561.6" width="1.1" height="4.2" fill="#000"/>
<rect x="211.41" y="561.6" width="1.1" height="4.2" fill="#000"/>
<rect x="216.63" y="561.6" width="1.1" height="4.2" fill="#000"/>
<rect x="221.84" y="561.6" width="1.1" height="4.2" fill="#000"/>
<rect x="227.05" y="561.6" width="1.1" height="4.2" fill="#000"/>
<rect x="232.27" y="561.6" width="1.1" height="4.2" fill="#000"/>
<rect x="237.48" y="561.6" width="1.1" height="4.2" fill="#000"/>
<rect x="242.69" y="561.6" width="1.1" height="4.2" fill="#000"/>
<rect x="247.91" y="561.6" width="1.1" height="4.2" fill="#000"/>
<rect x="253.12" y="561.6" width="1.1" height="4.2" fill="#000"/>
<rect x="258.33" y="561.6" width="1.1" height="4.2" fill="#000"/>
<rect x="263.54" y="561.6" width="1.1" height="4.2" fill="#000"/>
<rect x="268.76" y="561.6" width="1.1" height="4.2" fill="#000"/>
<rect x="273.97" y="561.6" width="1.1" height="4.2" fill="#000"/>
<rect x="279.18" y="561.6" width="1.1" height="4.2" fill="#000"/>
<rect x="284.4" y="561.6" width="1.1" height="4.2" fill="#000"/>
<rect x="289.61" y="561.6" width="1.1" height="4.2" fill="#000"/>
<rect x="294.82" y="561.6" width="1.1" height="4.2" fill="#000"/>
<rect x="300.04" y="561.6" width="1.1" height="4.2" fill="#000"/>
<rect x="305.25" y="561.6" width="1.1" height="4.2" fill="#000"/>
<rect x="310.46" y="561.6" width="1.1" height="4.2" fill="#000"/>
<rect x="315.67" y="561.6" width="1.1" height="4.2" fill="#000"/>
<rect x="320.89" y="561.6" width="1.1" height="4.2" fill="#000"/>
<rect x="326.1" y="561.6" width="1.1" height="4.2" fill="#000"/>
<rect x="331.31" y="561.6" width="1.1" height="4.2" fill="#000"/>
<rect x="336.53" y="561.6" width="1.1" height="4.2" fill="#000"/>
<rect x="341.74" y="561.6" width="1.1" height="4.2" fill="#000"/>
<rect x="346.95" y="561.6" width="1.1" height="4.2" fill="#000"/>
<rect x="352.17" y="561.6" width="1.1" height="4.2" fill="#000"/>
<rect x="357.38" y="561.6" width="1.1" height="4.2" fill="#000"/>
<rect x="362.59" y="561.6" width="1.1" height="4.2" fill="#000"/>
<rect x="367.8" y="561.6" width="1.1" height="4.2" fill="#000"/>
<rect x="373.02" y="561.6" width="1.1" height="4.2" fill="#000"/>
<rect x="378.23" y="561.6" width="1.1" height="4.2" fill="#000"/>
<rect x="383.44" y="561.6" width="1.1" height="4.2" fill="#000"/>
<rect x="388.66" y="561.6" width="1.1" height="4.2" fill="#000"/>
<rect x="393.87" y="561.6" width="1.1" height="4.2" fill="#000"/>
<rect x="399.08" y="561.6" width="1.1" height="4.2" fill="#000"/>
<rect x="404.3" y="561.6" width="1.1" height="4.2" fill="#000"/>
<rect x="409.51" y="561.6" width="1.1" height="4.2" fill="#000"/>
<rect x="414.72" y="561.6" width="1.1" height="4.2" fill="#000"/>
<rect x="419.93" y="561.6" width="1.1" height="4.2" fill="#000"/>
<rect x="425.15" y="561.6" width="1.1" height="4.2" fill="#000"/>
<rect x="430.36" y="561.6" width="1.1" height="4.2" fill="#000"/>
<rect x="435.57" y="561.6" width="1.1" height="4.2" fill="#000"/>
<rect x="440.79" y="561.6" width="1.1" height="4.2" fill="#000"/>
<rect x="446" y="561.6" width="1.1" height="4.2" fill="#000"/>
<rect x="451.21" y="561.6" width="1.1" height="4.2" fill="#000"/>
<rect x="456.43" y="561.6" width="1.1" height="4.2" fill="#000"/>
<rect x="461.64" y="561.6" width="1.1" height="4.2" fill="#000"/>
<rect x="466.85" y="561.6" width="1.1" height="4.2" fill="#000"/>
<rect x="472.06" y="561.6" width="1.1" height="4.2" fill="#000"/>
<rect x="477.28" y="561.6" width="1.1" height="4.2" fill="#000"/>
<rect x="482.49" y="561.6" width="1.1" height="4.2" fill="#000"/>
<rect x="487.7" y="561.6" width="1.1" height="4.2" fill="#000"/>
<rect x="492.92" y="561.6" width="1.1" height="4.2" fill="#000"/>
<rect x="498.13" y="561.6" width="1.1" height="4.2" fill="#000"/>
<rect x="503.34" y="561.6" width="1.1" height="4.2" fill="#000"/>
<path transform="translate(75.233 580.600) scale(0.005518 -0.005518)" d="M515 0L515 1237L197 1010L197 1180L530 1409L696 1409L696 0Z" fill="#000" stroke="#000" stroke-width="0.22" vector-effect="non-scaling-stroke"/>
<text x="91.896" y="580.600" font-size="11.3">2</text>
<text x="108.559" y="580.600" font-size="11.3">8</text>
<text x="125.222" y="580.600" font-size="11.3">9</text>
<path transform="translate(138.742 580.600) scale(0.005518 -0.005518)" d="M515 0L515 1237L197 1010L197 1180L530 1409L696 1409L696 0Z" fill="#000" stroke="#000" stroke-width="0.22" vector-effect="non-scaling-stroke"/>
<text x="145.027" y="580.600" font-size="11.3">3</text>
<path transform="translate(155.405 580.600) scale(0.005518 -0.005518)" d="M515 0L515 1237L197 1010L197 1180L530 1409L696 1409L696 0Z" fill="#000" stroke="#000" stroke-width="0.22" vector-effect="non-scaling-stroke"/>
<text x="161.690" y="580.600" font-size="11.3">5</text>
<path transform="translate(172.068 580.600) scale(0.005518 -0.005518)" d="M515 0L515 1237L197 1010L197 1180L530 1409L696 1409L696 0Z" fill="#000" stroke="#000" stroke-width="0.22" vector-effect="non-scaling-stroke"/>
<text x="178.353" y="580.600" font-size="11.3">6</text>
<path transform="translate(188.731 580.600) scale(0.005518 -0.005518)" d="M515 0L515 1237L197 1010L197 1180L530 1409L696 1409L696 0Z" fill="#000" stroke="#000" stroke-width="0.22" vector-effect="non-scaling-stroke"/>
<text x="195.016" y="580.600" font-size="11.3">8</text>
<text x="205.394" y="580.600" font-size="11.3">2</text>
<text x="211.679" y="580.600" font-size="11.3">0</text>
<text x="222.057" y="580.600" font-size="11.3">2</text>
<path transform="translate(228.342 580.600) scale(0.005518 -0.005518)" d="M515 0L515 1237L197 1010L197 1180L530 1409L696 1409L696 0Z" fill="#000" stroke="#000" stroke-width="0.22" vector-effect="non-scaling-stroke"/>
<text x="238.720" y="580.600" font-size="11.3">2</text>
<text x="245.005" y="580.600" font-size="11.3">2</text>
<text x="255.383" y="580.600" font-size="11.3">2</text>
<text x="261.668" y="580.600" font-size="11.3">3</text>
<text x="272.046" y="580.600" font-size="11.3">2</text>
<text x="278.331" y="580.600" font-size="11.3">4</text>
<text x="288.709" y="580.600" font-size="11.3">2</text>
<text x="294.994" y="580.600" font-size="11.3">7</text>
<text x="305.372" y="580.600" font-size="11.3">2</text>
<text x="311.657" y="580.600" font-size="11.3">8</text>
<text x="322.035" y="580.600" font-size="11.3">2</text>
<text x="328.320" y="580.600" font-size="11.3">9</text>
<text x="338.698" y="580.600" font-size="11.3">3</text>
<text x="344.983" y="580.600" font-size="11.3">0</text>
<text x="355.361" y="580.600" font-size="11.3">3</text>
<path transform="translate(361.646 580.600) scale(0.005518 -0.005518)" d="M515 0L515 1237L197 1010L197 1180L530 1409L696 1409L696 0Z" fill="#000" stroke="#000" stroke-width="0.22" vector-effect="non-scaling-stroke"/>
<text x="372.024" y="580.600" font-size="11.3">3</text>
<text x="378.309" y="580.600" font-size="11.3">2</text>
<text x="388.687" y="580.600" font-size="11.3">3</text>
<text x="394.972" y="580.600" font-size="11.3">4</text>
<text x="405.350" y="580.600" font-size="11.3">3</text>
<text x="411.635" y="580.600" font-size="11.3">5</text>
<text x="422.013" y="580.600" font-size="11.3">3</text>
<text x="428.298" y="580.600" font-size="11.3">7</text>
<text x="438.676" y="580.600" font-size="11.3">4</text>
<text x="444.961" y="580.600" font-size="11.3">2</text>
<text x="455.339" y="580.600" font-size="11.3">4</text>
<text x="461.624" y="580.600" font-size="11.3">4</text>
<text x="472.002" y="580.600" font-size="11.3">5</text>
<text x="478.287" y="580.600" font-size="11.3">0</text>
<text x="488.665" y="580.600" font-size="11.3">5</text>
<text x="494.950" y="580.600" font-size="11.3">4</text>
<text x="287.3" y="601.3" text-anchor="middle" font-size="13.8">Babesia antigen</text>
<text transform="translate(41.8 444) rotate(-90) scale(0.965 1)" text-anchor="middle" font-size="13.8">A405</text>
<text transform="translate(10.7 326.8) scale(0.87 1)" font-size="17.6" style="stroke-width:0.1px">B</text>
<rect x="76.3" y="345.5" width="7" height="7" fill="#a30027"/>
<text transform="translate(89.1 353.1) scale(0.9 1)" font-size="11.5">AA</text>
<rect x="76.3" y="360.05" width="7" height="7" fill="#2d4e85"/>
<text transform="translate(89.1 367.65) scale(0.9 1)" font-size="11.5">AS</text>
<rect x="76.3" y="374.6" width="7" height="7" fill="#60a334"/>
<text transform="translate(89.1 382.2) scale(0.9 1)" font-size="11.5">SS</text>
<rect x="372.55" y="394.2" width="1.5" height="6.5" fill="#000"/>
<rect x="381.85" y="394.2" width="1.5" height="6.5" fill="#000"/>
<rect x="373.3" y="396.9" width="9.3" height="1.2" fill="#000"/>
<line x1="378" y1="389.6" x2="378" y2="393.4" stroke="#111" stroke-width="1.0"/>
<line x1="379.65" y1="390.55" x2="376.35" y2="392.45" stroke="#111" stroke-width="1.0"/>
<line x1="379.65" y1="392.45" x2="376.35" y2="390.55" stroke="#111" stroke-width="1.0"/>
<circle cx="378" cy="391.5" r="0.75" fill="#000"/>
<rect x="388.4" y="425.2" width="1.5" height="6.6" fill="#000"/>
<rect x="398.05" y="425.2" width="1.5" height="6.6" fill="#000"/>
<rect x="389.15" y="427.9" width="9.65" height="1.2" fill="#000"/>
<line x1="391.4" y1="420.7" x2="391.4" y2="424.5" stroke="#111" stroke-width="1.0"/>
<line x1="393.05" y1="421.65" x2="389.75" y2="423.55" stroke="#111" stroke-width="1.0"/>
<line x1="393.05" y1="423.55" x2="389.75" y2="421.65" stroke="#111" stroke-width="1.0"/>
<circle cx="391.4" cy="422.6" r="0.75" fill="#000"/>
<line x1="396.5" y1="420.7" x2="396.5" y2="424.5" stroke="#111" stroke-width="1.0"/>
<line x1="398.15" y1="421.65" x2="394.85" y2="423.55" stroke="#111" stroke-width="1.0"/>
<line x1="398.15" y1="423.55" x2="394.85" y2="421.65" stroke="#111" stroke-width="1.0"/>
<circle cx="396.5" cy="422.6" r="0.75" fill="#000"/>
<rect x="0" y="0" width="520" height="1" fill="#858585"/>
<rect x="0" y="0" width="1" height="616" fill="#666"/>
<rect x="1" y="1" width="518" height="1" fill="#000"/>
<rect x="1" y="1" width="1" height="614" fill="#000"/>
<rect x="518" y="1" width="1" height="614" fill="#000"/>
<rect x="1" y="614" width="518" height="1" fill="#000"/>
<rect x="519" y="0" width="1" height="616" fill="#333"/>
<rect x="0" y="615" width="520" height="1" fill="#4a4a4a"/>
<rect x="519" y="0" width="1" height="1" fill="#858585"/>
<rect x="0" y="615" width="1" height="1" fill="#999"/>
<rect x="519" y="615" width="1" height="1" fill="#888"/>
</svg>
</body></html>
